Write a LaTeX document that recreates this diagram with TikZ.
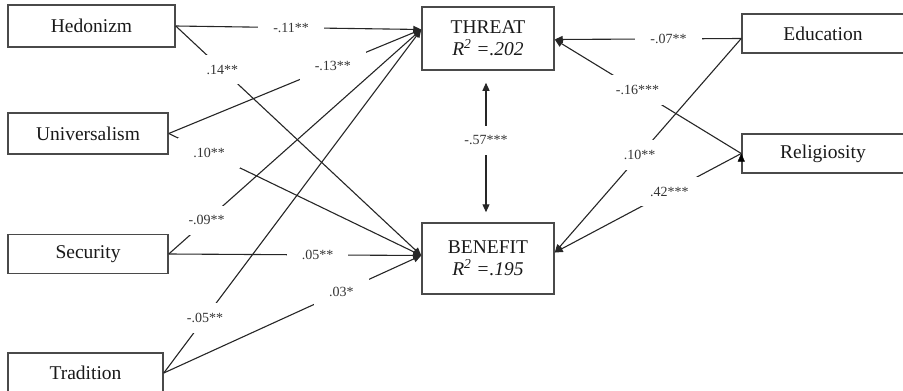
\documentclass[tikz,border=0pt]{standalone}
\usepackage{fontspec}
\setmainfont{Liberation Serif}
\usetikzlibrary{arrows.meta}

\definecolor{boxline}{HTML}{4A4A4A}
\definecolor{pathline}{HTML}{262626}
\definecolor{coeftext}{HTML}{353535}

\begin{document}
\begin{tikzpicture}[->,
					>={Triangle[length=8pt,width=7pt]},
					x=1pt, y=-1pt,
					every edge/.style={draw=pathline, line width=1.1pt},
					box/.style={draw=boxline, line width=1.5pt, inner sep=0pt,
						text=black!90, align=center,
						font=\fontsize{19.5}{22}\selectfont},
					coef/.style={fill=white, text=coeftext, inner xsep=15pt,
						inner ysep=10pt, font=\fontsize{14}{16}\selectfont}]

	\useasboundingbox (0,0) rectangle (903,391);

	% predictors
	\node[box, minimum width=167pt, minimum height=42pt] (hed) at (91.5,26) {Hedonizm};
	\node[box, minimum width=160pt, minimum height=41pt] (uni) at (88,133.5) {Universalism};
	\node[box, minimum width=160pt, minimum height=39pt] (sec) at (88,254) {Security};
	\node[box, minimum width=155pt, minimum height=40pt] (tra) at (85.5,373) {Tradition};
	\node[box, minimum width=162pt, minimum height=39pt] (edu) at (823,33.5) {Education};
	\node[box, minimum width=162pt, minimum height=39pt] (rel) at (823,153.5) {Religiosity};

	% outcomes
	\node[box, minimum width=132pt, minimum height=63pt] (thr) at (488,38.5)
		{THREAT\\{\itshape R\textsuperscript{2} =.202}};
	\node[box, minimum width=132pt, minimum height=71pt] (ben) at (488,258.5)
		{BENEFIT\\{\itshape R\textsuperscript{2} =.195}};

	\coordinate (thrL) at ([yshift=9pt]thr.west);
	\coordinate (thrR) at ([yshift=-1pt]thr.east);
	\coordinate (benL) at ([yshift=3pt]ben.west);
	\coordinate (benR) at ([yshift=6pt]ben.east);
	\coordinate (eduL) at ([yshift=-5pt]edu.west);

	\draw	(hed.east) edge node[coef, pos=.47] {-.11**} (thrL)
			(hed.east) edge node[coef, pos=.19] {.14**} (benL)
			(uni.east) edge node[coef, pos=.65] {-.13**} (thrL)
			(uni.east) edge node[coef, pos=.16] {.10**} (benL)
			(sec.east) edge node[coef, pos=.15] {-.09**} (thrL)
			(sec.east) edge node[coef, pos=.59] {.05**} (benL)
			(tra.east) edge node[coef, pos=.16] {-.05**} (thrL)
			(tra.east) edge node[coef, pos=.69] {.03*} (benL)
			(eduL) edge node[coef, pos=.39] {-.07**} (thrR)
			(eduL) edge node[coef, pos=.545] {.10**} (benR)
			(rel.west) edge node[coef, pos=.556] {-.16***} (thrR)
			(rel.west) edge node[coef, pos=.385] {.42***} (benR)
	;

	\draw[<->, draw=pathline, line width=1.1pt, shorten <=12pt, shorten >=10pt]
		([xshift=-2pt]thr.south) -- node[coef, pos=.46] {-.57***} ([xshift=-2pt]ben.north);
\end{tikzpicture}
\end{document}
